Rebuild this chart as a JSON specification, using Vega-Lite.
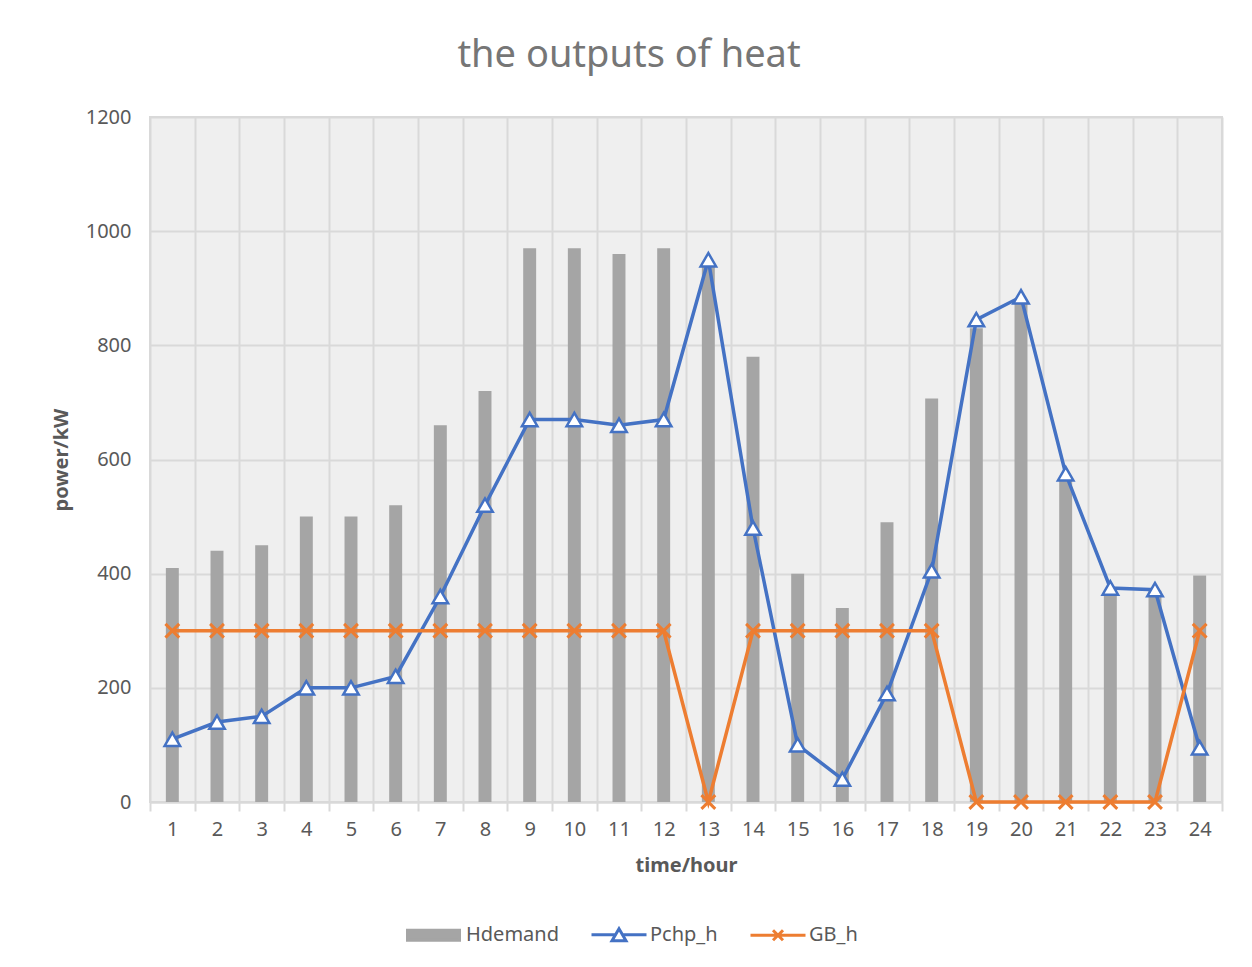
{
  "$schema": "https://vega.github.io/schema/vega-lite/v6.json",
  "width": 1072,
  "height": 685,
  "autosize": "none",
  "padding": {"left": 150, "top": 117, "right": 30, "bottom": 165},
  "background": "white",
  "title": {
    "text": "the outputs of heat",
    "fontSize": 38,
    "font": "Noto Sans",
    "fontWeight": "normal",
    "color": "#767676",
    "anchor": "middle",
    "dx": -57,
    "offset": 32
  },
  "config": {
    "font": "Noto Sans",
    "view": {"fill": "#efefef", "stroke": "#d9d9d9", "strokeWidth": 2},
    "legend": {
      "orient": "none",
      "direction": "horizontal",
      "legendX": 256,
      "legendY": 806,
      "labelFontSize": 20,
      "labelColor": "#595959",
      "symbolSize": 400,
      "labelOffset": 37,
      "columnPadding": 26
    }
  },
  "data": {
    "values": [
      {"hour": 1, "series": "Hdemand", "value": 410},
      {"hour": 2, "series": "Hdemand", "value": 440},
      {"hour": 3, "series": "Hdemand", "value": 450},
      {"hour": 4, "series": "Hdemand", "value": 500},
      {"hour": 5, "series": "Hdemand", "value": 500},
      {"hour": 6, "series": "Hdemand", "value": 520},
      {"hour": 7, "series": "Hdemand", "value": 660},
      {"hour": 8, "series": "Hdemand", "value": 720},
      {"hour": 9, "series": "Hdemand", "value": 970},
      {"hour": 10, "series": "Hdemand", "value": 970},
      {"hour": 11, "series": "Hdemand", "value": 960},
      {"hour": 12, "series": "Hdemand", "value": 970},
      {"hour": 13, "series": "Hdemand", "value": 940},
      {"hour": 14, "series": "Hdemand", "value": 780},
      {"hour": 15, "series": "Hdemand", "value": 400},
      {"hour": 16, "series": "Hdemand", "value": 340},
      {"hour": 17, "series": "Hdemand", "value": 490},
      {"hour": 18, "series": "Hdemand", "value": 707},
      {"hour": 19, "series": "Hdemand", "value": 830},
      {"hour": 20, "series": "Hdemand", "value": 875},
      {"hour": 21, "series": "Hdemand", "value": 570},
      {"hour": 22, "series": "Hdemand", "value": 370},
      {"hour": 23, "series": "Hdemand", "value": 370},
      {"hour": 24, "series": "Hdemand", "value": 397},
      {"hour": 1, "series": "Pchp_h", "value": 110},
      {"hour": 2, "series": "Pchp_h", "value": 140},
      {"hour": 3, "series": "Pchp_h", "value": 150},
      {"hour": 4, "series": "Pchp_h", "value": 200},
      {"hour": 5, "series": "Pchp_h", "value": 200},
      {"hour": 6, "series": "Pchp_h", "value": 220},
      {"hour": 7, "series": "Pchp_h", "value": 360},
      {"hour": 8, "series": "Pchp_h", "value": 520},
      {"hour": 9, "series": "Pchp_h", "value": 670},
      {"hour": 10, "series": "Pchp_h", "value": 670},
      {"hour": 11, "series": "Pchp_h", "value": 660},
      {"hour": 12, "series": "Pchp_h", "value": 670},
      {"hour": 13, "series": "Pchp_h", "value": 950},
      {"hour": 14, "series": "Pchp_h", "value": 480},
      {"hour": 15, "series": "Pchp_h", "value": 100},
      {"hour": 16, "series": "Pchp_h", "value": 40},
      {"hour": 17, "series": "Pchp_h", "value": 190},
      {"hour": 18, "series": "Pchp_h", "value": 405},
      {"hour": 19, "series": "Pchp_h", "value": 845},
      {"hour": 20, "series": "Pchp_h", "value": 885},
      {"hour": 21, "series": "Pchp_h", "value": 575},
      {"hour": 22, "series": "Pchp_h", "value": 375},
      {"hour": 23, "series": "Pchp_h", "value": 372},
      {"hour": 24, "series": "Pchp_h", "value": 95},
      {"hour": 1, "series": "GB_h", "value": 300},
      {"hour": 2, "series": "GB_h", "value": 300},
      {"hour": 3, "series": "GB_h", "value": 300},
      {"hour": 4, "series": "GB_h", "value": 300},
      {"hour": 5, "series": "GB_h", "value": 300},
      {"hour": 6, "series": "GB_h", "value": 300},
      {"hour": 7, "series": "GB_h", "value": 300},
      {"hour": 8, "series": "GB_h", "value": 300},
      {"hour": 9, "series": "GB_h", "value": 300},
      {"hour": 10, "series": "GB_h", "value": 300},
      {"hour": 11, "series": "GB_h", "value": 300},
      {"hour": 12, "series": "GB_h", "value": 300},
      {"hour": 13, "series": "GB_h", "value": 0},
      {"hour": 14, "series": "GB_h", "value": 300},
      {"hour": 15, "series": "GB_h", "value": 300},
      {"hour": 16, "series": "GB_h", "value": 300},
      {"hour": 17, "series": "GB_h", "value": 300},
      {"hour": 18, "series": "GB_h", "value": 300},
      {"hour": 19, "series": "GB_h", "value": 0},
      {"hour": 20, "series": "GB_h", "value": 0},
      {"hour": 21, "series": "GB_h", "value": 0},
      {"hour": 22, "series": "GB_h", "value": 0},
      {"hour": 23, "series": "GB_h", "value": 0},
      {"hour": 24, "series": "GB_h", "value": 300}
    ]
  },
  "encoding": {
    "x": {
      "field": "hour",
      "type": "ordinal",
      "scale": {"paddingInner": 0, "paddingOuter": 0},
      "axis": {
        "title": "time/hour",
        "labelAngle": 0,
        "labelFontSize": 20,
        "labelColor": "#595959",
        "labelPadding": 8,
        "tickBand": "extent",
        "tickColor": "#d9d9d9",
        "tickWidth": 2,
        "tickSize": 9,
        "domainColor": "#d9d9d9",
        "domainWidth": 2,
        "grid": true,
        "gridColor": "#d9d9d9",
        "gridWidth": 2,
        "titleFontSize": 20,
        "titleFontWeight": "bold",
        "titleColor": "#595959",
        "titlePadding": 16
      }
    },
    "y": {
      "field": "value",
      "type": "quantitative",
      "scale": {"domain": [0, 1200], "nice": false},
      "axis": {
        "title": "power/kW",
        "format": "d",
        "values": [0, 200, 400, 600, 800, 1000, 1200],
        "labelFontSize": 20,
        "labelColor": "#595959",
        "labelPadding": 19,
        "ticks": false,
        "domain": false,
        "grid": true,
        "gridColor": "#d9d9d9",
        "gridWidth": 2,
        "titleFontSize": 20,
        "titleFontWeight": "bold",
        "titleColor": "#595959",
        "titlePadding": 14
      }
    },
    "color": {
      "field": "series",
      "type": "nominal",
      "title": null,
      "scale": {
        "domain": ["Hdemand", "Pchp_h", "GB_h"],
        "range": ["#a5a5a5", "#4472c4", "#ed7d31"]
      },
      "legend": {
        "title": null,
        "encode": {
          "symbols": {
            "update": {
              "shape": {"signal": "datum.value === 'Hdemand' ? 'M-1,-0.5H4.2V0.5H-1Z' : datum.value === 'Pchp_h' ? 'M-1,0H1.45M2.05,0H4.5M1.75,-0.6L2.45,0.6H1.05Z' : 'M-1,0H4.5M1.25,-0.5L2.25,0.5M1.25,0.5L2.25,-0.5'"},
              "stroke": {"signal": "datum.value === 'Hdemand' ? 'transparent' : datum.value === 'Pchp_h' ? '#4472c4' : '#ed7d31'"},
              "strokeWidth": {"value": 3},
              "opacity": {"value": 1},
              "fillOpacity": {"value": 1},
              "strokeOpacity": {"value": 1}
            }
          }
        }
      }
    }
  },
  "layer": [
    {
      "transform": [{"filter": "datum.series === 'Hdemand'"}],
      "mark": {"type": "bar", "width": {"band": 0.29}},
      "encoding": {
        "fill": {
          "field": "series",
          "type": "nominal",
          "title": null,
          "scale": {
            "domain": ["Hdemand", "Pchp_h", "GB_h"],
            "range": ["#a5a5a5", "#ffffff", "rgba(255,255,255,0)"]
          },
          "legend": {
            "title": null,
            "encode": {
              "symbols": {
                "update": {
                  "shape": {"signal": "datum.value === 'Hdemand' ? 'M-1,-0.5H4.2V0.5H-1Z' : datum.value === 'Pchp_h' ? 'M-1,0H1.45M2.05,0H4.5M1.75,-0.6L2.45,0.6H1.05Z' : 'M-1,0H4.5M1.25,-0.5L2.25,0.5M1.25,0.5L2.25,-0.5'"},
                  "stroke": {"signal": "datum.value === 'Hdemand' ? 'transparent' : datum.value === 'Pchp_h' ? '#4472c4' : '#ed7d31'"},
                  "strokeWidth": {"value": 3},
                  "opacity": {"value": 1},
                  "fillOpacity": {"value": 1},
                  "strokeOpacity": {"value": 1}
                }
              }
            }
          }
        }
      }
    },
    {
      "transform": [{"filter": "datum.series === 'Pchp_h'"}],
      "mark": {"type": "line", "strokeWidth": 3.5}
    },
    {
      "transform": [{"filter": "datum.series === 'Pchp_h'"}],
      "mark": {"type": "point", "shape": "triangle-up", "size": 240, "filled": true, "fill": "#ffffff", "stroke": "#4472c4", "strokeWidth": 2.5, "opacity": 1},
      "encoding": {"color": {"value": "#4472c4"}, "fill": {"value": "#ffffff"}}
    },
    {
      "transform": [{"filter": "datum.series === 'GB_h'"}],
      "mark": {"type": "line", "strokeWidth": 3.5}
    },
    {
      "transform": [{"filter": "datum.series === 'GB_h'"}],
      "mark": {"type": "point", "shape": "M-1,-1L1,1M-1,1L1,-1", "size": 190, "filled": false, "stroke": "#ed7d31", "strokeWidth": 3, "opacity": 1},
      "encoding": {"color": {"value": "#ed7d31"}}
    }
  ]
}
